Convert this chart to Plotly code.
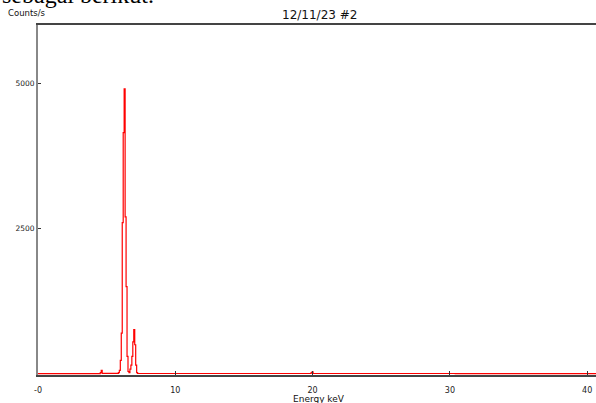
import plotly.graph_objects as go

# Spectrum channels (keV) and count rates (counts/s)
energy_kev = [0.0, 4.50, 4.57, 4.64, 4.71, 5.82, 5.89, 5.96, 6.03, 6.10, 6.17, 6.24, 6.31,
              6.38, 6.45, 6.52, 6.59, 6.66, 6.73, 6.80, 6.87, 6.94, 7.01, 7.08,
              7.15, 7.22, 7.29, 19.86, 19.93, 20.00, 20.07, 40.7]
counts = [4, 4, 20, 60, 8, 8, 20, 60, 230, 700, 2600, 4150, 4900,
          2700, 1500, 300, 40, 20, 80, 150, 300, 550, 760, 500,
          150, 20, 6, 6, 20, 35, 6, 4]

x_tick_vals = [0, 10, 20, 30, 40]
x_tick_text = ["-0", "10", "20", "30", "40"]
y_tick_vals = [2500, 5000]
y_tick_text = ["2500", "5000"]

title_text = "12/11/23 #2"
y_label = "Counts/s"
x_label = "Energy keV"
doc_text = "sebagai berikut."

FONT = "DejaVu Sans"

fig = go.Figure()
fig.add_trace(go.Scatter(
    x=energy_kev, y=counts, mode="lines",
    line=dict(color="#ff0000", width=1.2, shape="hvh"),
    hoverinfo="skip", showlegend=False,
))

fig.update_layout(
    width=596, height=403,
    margin=dict(l=38, r=0, t=25, b=28),
    paper_bgcolor="white", plot_bgcolor="white",
    font=dict(family=FONT, size=8, color="#000000"),
    showlegend=False,
)
fig.update_xaxes(
    range=[0, 40.64], showgrid=False, zeroline=False,
    showline=True, linecolor="#444444", linewidth=1.5, mirror=True,
    tickmode="array", tickvals=x_tick_vals, ticktext=x_tick_text,
    ticks="inside", ticklen=4, tickcolor="#333333", tickwidth=1,
    tickfont=dict(family=FONT, size=8, color="#222222"),
    ticklabelstandoff=7,
)
fig.update_yaxes(
    range=[-20, 6000], showgrid=False, zeroline=False,
    showline=True, linecolor="#888888", linewidth=2,
    tickmode="array", tickvals=y_tick_vals, ticktext=y_tick_text,
    ticks="inside", ticklen=3, tickcolor="#333333", tickwidth=1,
    tickfont=dict(family=FONT, size=7.5, color="#222222"),
    ticklabelstandoff=0,
)

fig.add_annotation(text=title_text, xref="paper", yref="paper",
                   x=0.504, y=1.0, yanchor="bottom", xanchor="center",
                   yshift=1, showarrow=False,
                   font=dict(family=FONT, size=12, color="#111111"))
fig.add_annotation(text=y_label, xref="paper", yref="paper",
                   x=-0.058, y=1.0, yanchor="bottom", xanchor="left",
                   yshift=5, showarrow=False,
                   font=dict(family=FONT, size=8.5, color="#111111"))
fig.add_annotation(text=x_label, xref="paper", yref="paper",
                   x=0.504, y=0.0, yanchor="top", xanchor="center",
                   yshift=-17, showarrow=False,
                   font=dict(family=FONT, size=9, color="#111111"))
fig.add_annotation(text=doc_text, xref="paper", yref="paper",
                   x=-0.068, y=1.0, yanchor="bottom", xanchor="left",
                   yshift=15, showarrow=False,
                   font=dict(family="Liberation Serif", size=24, color="#000000"))

fig.write_html("out.html", config={"displayModeBar": False},
               post_script="document.body.style.margin='0px';document.body.style.overflow='hidden';")
